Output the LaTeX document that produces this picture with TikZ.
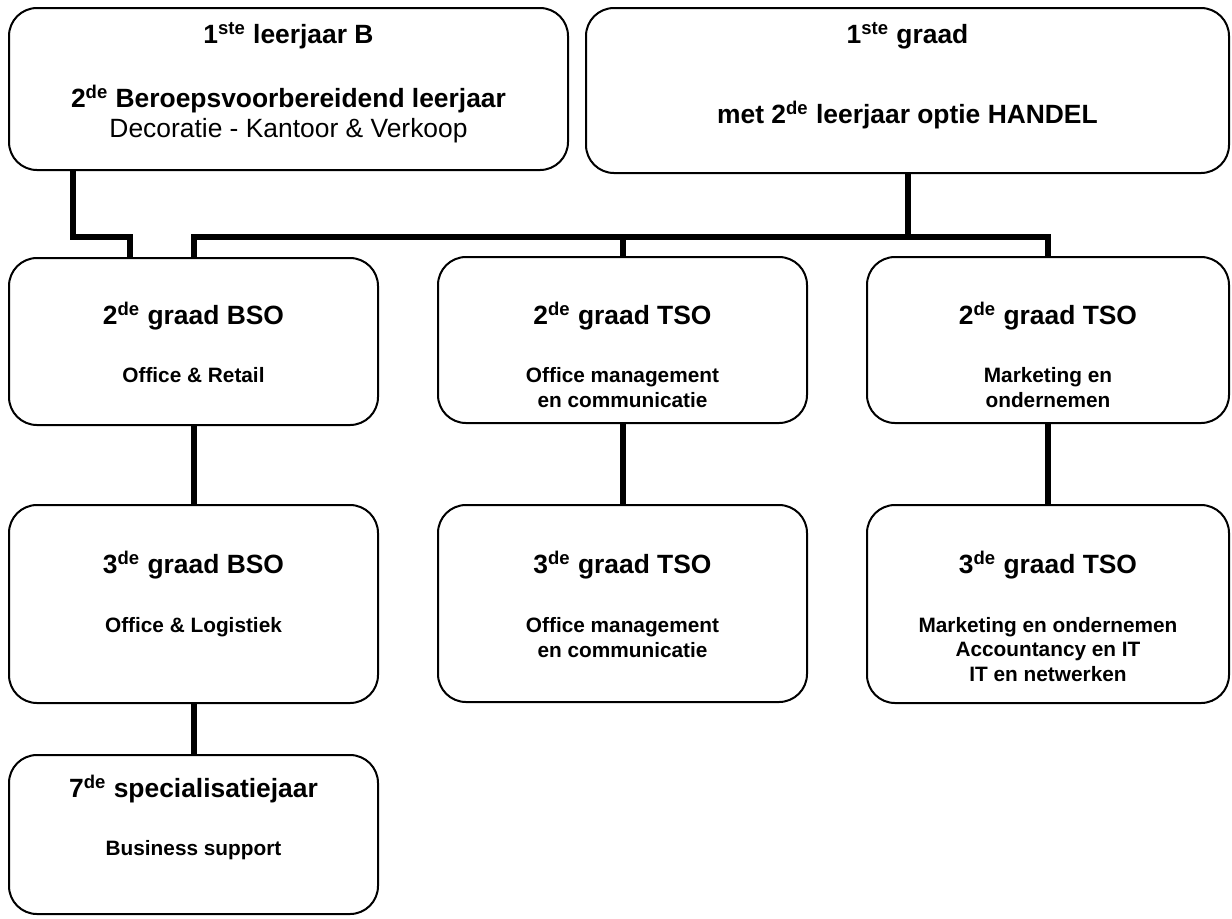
\documentclass[tikz,border=0pt]{standalone}
\usepackage{fontspec}
\setmainfont{Liberation Sans}
\usetikzlibrary{fit}
\newcommand{\up}[1]{\textsuperscript{#1}}

\begin{document}
\begin{tikzpicture}[x=0.5pt, y=-0.5pt,
    box/.style={draw, line width=1pt, rounded corners=14pt, inner sep=0pt},
    titel/.style={font=\fontsize{13.2}{15}\selectfont\bfseries, anchor=base, inner sep=0pt},
    gewoon/.style={font=\fontsize{13.2}{15}\selectfont, anchor=base, inner sep=0pt},
    optie/.style={font=\fontsize{10.4}{12}\selectfont\bfseries, anchor=base, inner sep=0pt},
    lijn/.style={line width=3pt}]
  \useasboundingbox (0,0) rectangle (1232,918);

  % Eerste graad
  \node[box, fit={(9,8) (568,170)}] (boxa) {};
  \node[titel] (boxa1) at (288.5,43) {1\up{ste} leerjaar B};
  \node[titel] (boxa2) at (288.5,107) {2\up{de} Beroepsvoorbereidend leerjaar};
  \node[gewoon] (boxa3) at (288.5,137) {Decoratie - Kantoor \& Verkoop};

  \node[box, fit={(586,8) (1229,173)}] (boxb) {};
  \node[titel] (boxb1) at (907.5,43) {1\up{ste} graad};
  \node[titel] (boxb2) at (907.5,123) {met 2\up{de} leerjaar optie HANDEL};

  % Tweede graad
  \node[box, fit={(9,258) (378,425)}] (bso2) {};
  \node[titel] (bso2t) at (193.5,324) {2\up{de} graad BSO};
  \node[optie] (bso2o) at (193.5,382) {Office \& Retail};

  \node[box, fit={(438,257) (807,423)}] (tso2m) {};
  \node[titel] (tso2mt) at (622.5,324) {2\up{de} graad TSO};
  \foreach \l [count=\i] in {Office management, en communicatie}
    \node[optie] (tso2mo\i) at (622.5,{382+25*(\i-1)}) {\l};

  \node[box, fit={(867,257) (1229,423)}] (tso2r) {};
  \node[titel] (tso2rt) at (1048,324) {2\up{de} graad TSO};
  \foreach \l [count=\i] in {Marketing en, ondernemen}
    \node[optie] (tso2ro\i) at (1048,{382+25*(\i-1)}) {\l};

  % Derde graad
  \node[box, fit={(9,505) (378,703)}] (bso3) {};
  \node[titel] (bso3t) at (193.5,573) {3\up{de} graad BSO};
  \node[optie] (bso3o) at (193.5,632) {Office \& Logistiek};

  \node[box, fit={(438,505) (807,702)}] (tso3m) {};
  \node[titel] (tso3mt) at (622.5,573) {3\up{de} graad TSO};
  \foreach \l [count=\i] in {Office management, en communicatie}
    \node[optie] (tso3mo\i) at (622.5,{632+25*(\i-1)}) {\l};

  \node[box, fit={(867,505) (1229,703)}] (tso3r) {};
  \node[titel] (tso3rt) at (1048,573) {3\up{de} graad TSO};
  \foreach \l [count=\i] in {Marketing en ondernemen, Accountancy en IT, IT en netwerken}
    \node[optie] (tso3ro\i) at (1048,{632+24.5*(\i-1)}) {\l};

  % Specialisatiejaar
  \node[box, fit={(9,755) (378,914)}] (spec7) {};
  \node[titel] (spec7t) at (193.5,797) {7\up{de} specialisatiejaar};
  \node[optie] (spec7o) at (193.5,855) {Business support};

  % Verbindingen
  \coordinate (bus) at (0,237);
  \coordinate (abeen) at (73,0);
  \coordinate (aknik) at (130,0);
  \draw[lijn] (boxa.south -| abeen) -- (bus -| abeen) -- (bus -| aknik) -- (bso2.north -| aknik);
  \draw[lijn] (bso2.north) -- (bso2.north |- bus) -- (tso2r.north |- bus) -- (tso2r.north);
  \draw[lijn] (tso2m.north) -- (tso2m.north |- bus);
  \draw[lijn] (boxb.south) -- (boxb.south |- bus);
  \draw[lijn] (bso2.south) -- (bso3.north);
  \draw[lijn] (tso2m.south) -- (tso3m.north);
  \draw[lijn] (tso2r.south) -- (tso3r.north);
  \draw[lijn] (bso3.south) -- (spec7.north);
\end{tikzpicture}
\end{document}
